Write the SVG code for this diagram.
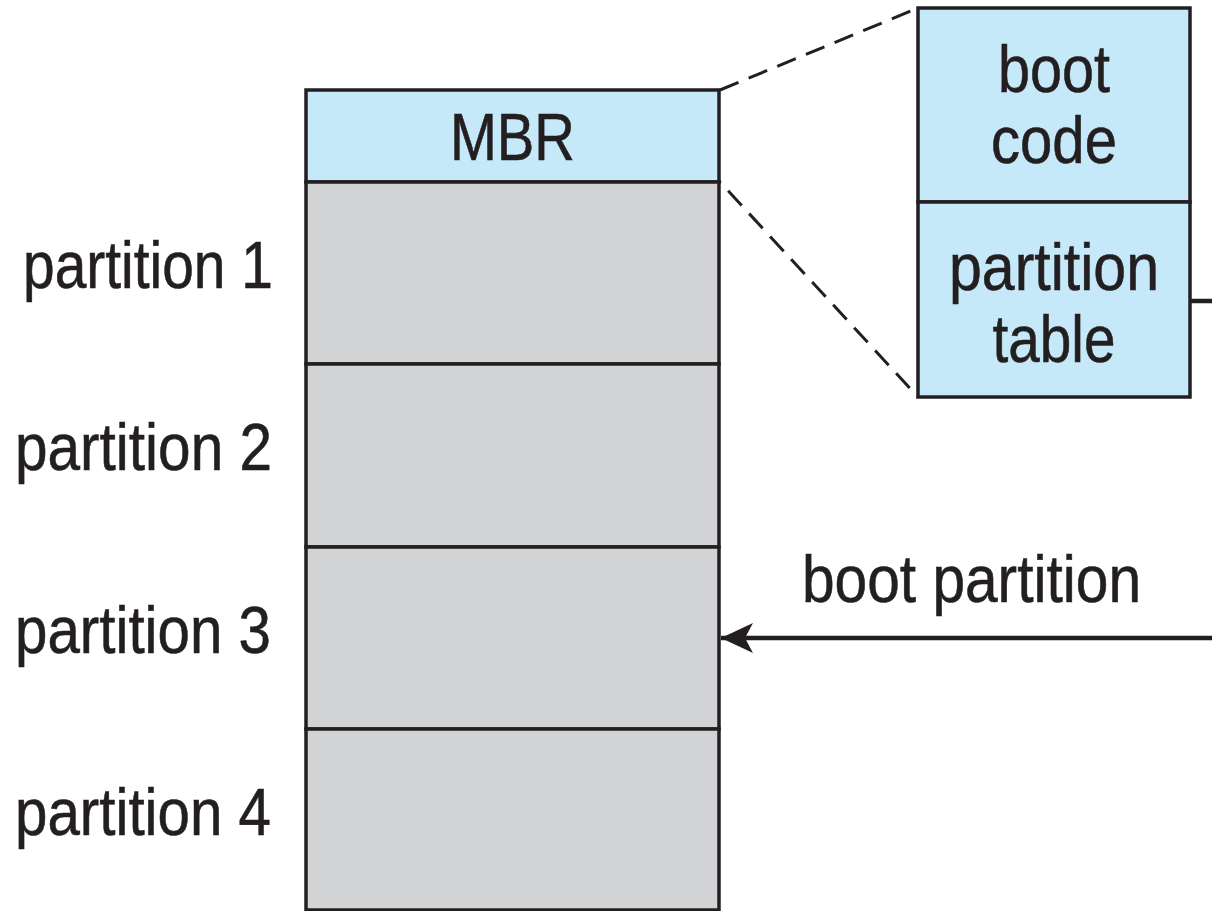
<svg xmlns="http://www.w3.org/2000/svg" width="1212" height="911" viewBox="0 0 1212 911">
<style>
.t{font-family:"Liberation Sans","Arial",sans-serif;font-size:66px;fill:#231f20;stroke:#231f20;stroke-width:0.6}
.blue{fill:#c6e9f9;stroke:#231f20;stroke-width:3.5}
.gray{fill:#d1d3d4;stroke:#231f20;stroke-width:3.5}
.dash{fill:none;stroke:#231f20;stroke-width:3;stroke-dasharray:20 11}
.conn{fill:none;stroke:#231f20;stroke-width:4.5}
</style>
<defs>
<marker id="ah" markerUnits="userSpaceOnUse" markerWidth="34" markerHeight="32" refX="32" refY="16" orient="auto" viewBox="0 0 34 32">
<path d="M32,16 L0,1 L8,16 L0,31 Z" fill="#231f20"/>
</marker>
</defs>
<rect width="1212" height="911" fill="#ffffff"/>
<g id="mbr">
<rect class="blue" x="306" y="90" width="413" height="92"/>
<text class="t" x="512.5" y="160" text-anchor="middle" textLength="125" lengthAdjust="spacingAndGlyphs">MBR</text>
</g>
<g id="partition1">
<rect class="gray" x="306" y="182" width="413" height="182"/>
<text class="t" x="273" y="288" text-anchor="end" textLength="250" lengthAdjust="spacingAndGlyphs">partition 1</text>
</g>
<g id="partition2">
<rect class="gray" x="306" y="364" width="413" height="183"/>
<text class="t" x="272" y="470" text-anchor="end" textLength="257" lengthAdjust="spacingAndGlyphs">partition 2</text>
</g>
<g id="partition3">
<rect class="gray" x="306" y="547" width="413" height="182"/>
<text class="t" x="271" y="653" text-anchor="end" textLength="256" lengthAdjust="spacingAndGlyphs">partition 3</text>
</g>
<g id="partition4">
<rect class="gray" x="306" y="729" width="413" height="181"/>
<text class="t" x="271" y="835" text-anchor="end" textLength="256" lengthAdjust="spacingAndGlyphs">partition 4</text>
</g>
<g id="bootcode">
<rect class="blue" x="918" y="8" width="272" height="194"/>
<text class="t" x="1054" y="92" text-anchor="middle" textLength="112" lengthAdjust="spacingAndGlyphs">boot</text>
<text class="t" x="1054" y="163" text-anchor="middle" textLength="126" lengthAdjust="spacingAndGlyphs">code</text>
</g>
<g id="partitiontable">
<rect class="blue" x="918" y="202" width="272" height="195"/>
<text class="t" x="1054" y="290" text-anchor="middle" textLength="210" lengthAdjust="spacingAndGlyphs">partition</text>
<text class="t" x="1054" y="362" text-anchor="middle" textLength="123" lengthAdjust="spacingAndGlyphs">table</text>
</g>
<g id="label-boot-partition">
<text class="t" x="802" y="602" textLength="339" lengthAdjust="spacingAndGlyphs">boot partition</text>
</g>
<g id="connectors">
<line class="dash" x1="720" y1="90" x2="918" y2="8"/>
<line class="dash" x1="720" y1="182" x2="918" y2="397" stroke-dashoffset="-12"/>
<line class="conn" x1="1190" y1="301" x2="1212" y2="301"/>
<line class="conn" x1="1212" y1="638" x2="721" y2="638" marker-end="url(#ah)"/>
</g>
</svg>
